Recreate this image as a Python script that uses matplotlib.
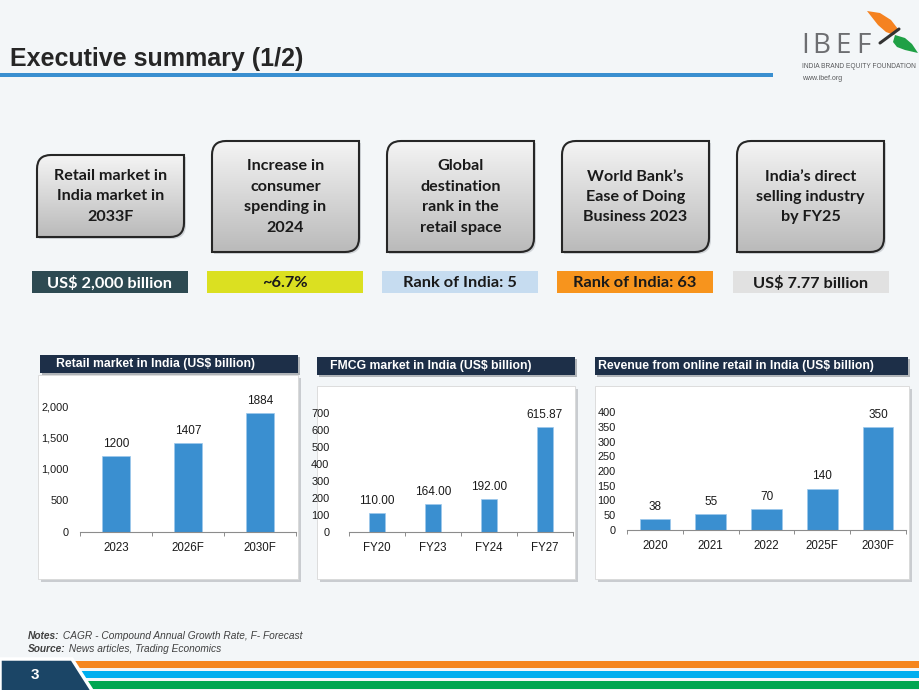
import matplotlib
matplotlib.use("Agg")
import matplotlib.pyplot as plt
import numpy as np
from matplotlib.path import Path
from matplotlib.patches import PathPatch, Rectangle, Polygon
from matplotlib.colors import LinearSegmentedColormap
from matplotlib import font_manager

# ---- data ----
box_titles = ["Retail market in\nIndia market in\n2033F",
              "Increase in\nconsumer\nspending in\n2024",
              "Global\ndestination\nrank in the\nretail space",
              "World Bank\u2019s\nEase of Doing\nBusiness 2023",
              "India\u2019s direct\nselling industry\nby FY25"]
box_values = ["US$ 2,000 billion", "~6.7%", "Rank of India: 5",
              "Rank of India: 63", "US$ 7.77 billion"]
value_colors = ["#2d4a52", "#dbe021", "#c6dcf0", "#f7941d", "#e1e1e1"]
value_text_colors = ["white", "#1a1a1a", "#1a1a1a", "#1a1a1a", "#1a1a1a"]

retail_years = ["2023", "2026F", "2030F"]
retail_vals = [1200, 1407, 1884]
fmcg_years = ["FY20", "FY23", "FY24", "FY27"]
fmcg_vals = [110.00, 164.00, 192.00, 615.87]
online_years = ["2020", "2021", "2022", "2025F", "2030F"]
online_vals = [38, 55, 70, 140, 350]

W, H = 920, 690
BG = "#f3f6f8"
BAR = "#3a8fd0"
NAVY = "#1d2f48"

installed = {f.name for f in font_manager.fontManager.ttflist}
narrow = "Liberation Sans Narrow" if "Liberation Sans Narrow" in installed else "Liberation Sans"
sans = "Liberation Sans"
boxfont = "Lato"

fig = plt.figure(figsize=(W / 100, H / 100), dpi=100, facecolor=BG)
ax = fig.add_axes([0, 0, 1, 1])
ax.set_xlim(0, W)
ax.set_ylim(H, 0)
ax.set_autoscale_on(False)
ax.axis("off")

# title + rule
ax.text(10, 66, "Executive summary (1/2)", fontsize=18, fontweight="bold",
        family=narrow, color="#262626", va="baseline", ha="left")
ax.add_patch(Rectangle((0, 73), 773, 4, color="#3a8fd0", lw=0))

# logo
for letter, lx in zip("IBEF", [801, 812, 835, 856]):
    ax.text(lx, 53, letter, fontsize=20, family="Open Sans", color="#6d6e71",
            va="baseline", ha="left")
ax.text(802, 67, "INDIA BRAND EQUITY FOUNDATION", fontsize=4.8, family=sans,
        color="#58595b", va="center", ha="left")
ax.text(802, 78, "www.ibef.org", fontsize=5, family=sans, color="#58595b",
        va="center", ha="left")
ax.add_patch(Polygon([(867, 11), (880, 13), (891, 20), (898, 29), (894, 35),
                      (886, 32), (878, 25)], closed=True, color="#f58220",
                     lw=0))
ax.add_patch(Polygon([(895, 35), (905, 38), (912, 44), (918, 53), (905, 50),
                      (897, 47), (893, 42)], closed=True, color="#1fa045",
                     lw=0))
ax.plot([880, 899], [43, 29], color="#333333", lw=2.2, solid_capstyle="round")

# summary boxes
cmap = LinearSegmentedColormap.from_list("g", ["#f4f4f4", "#bababa"])
grad = np.linspace(0, 1, 100).reshape(-1, 1)
box_x = [37, 212, 387, 562, 737]
box_w = 147
for i, (bx, title) in enumerate(zip(box_x, box_titles)):
    y0, y1 = (155, 237) if i == 0 else (141, 252)
    x0, x1 = bx, bx + box_w
    r = 14
    verts = [(x0, y1), (x0, y0 + r), (x0, y0), (x0 + r, y0), (x1, y0),
             (x1, y1 - r), (x1, y1), (x1 - r, y1), (x0, y1), (x0, y1)]
    codes = [Path.MOVETO, Path.LINETO, Path.CURVE3, Path.CURVE3, Path.LINETO,
             Path.LINETO, Path.CURVE3, Path.CURVE3, Path.LINETO, Path.CLOSEPOLY]
    shadow = PathPatch(Path([(vx + 2, vy + 2) for vx, vy in verts], codes),
                       facecolor="#d0d4d8", edgecolor="none", zorder=1)
    ax.add_patch(shadow)
    patch = PathPatch(Path(verts, codes), facecolor="none",
                      edgecolor="#262626", lw=1.5, zorder=3)
    ax.add_patch(patch)
    im = ax.imshow(grad, extent=(x0, x1, y1, y0), cmap=cmap, aspect="auto",
                   zorder=2, origin="upper")
    im.set_clip_path(patch)
    ax.text((x0 + x1) / 2, (y0 + y1) / 2 + 0.5, title, fontsize=11.6,
            fontweight="bold", family=boxfont, color="#1a1a1a",
            ha="center", va="center", linespacing=1.58, zorder=4)

# value bars
val_x = [32, 207, 382, 557, 733]
for vx, val, c, tc in zip(val_x, box_values, value_colors, value_text_colors):
    ax.add_patch(Rectangle((vx, 271), 156, 22, color=c, lw=0))
    ax.text(vx + 78, 283, val, fontsize=11.8, fontweight="bold",
            family=boxfont, color=tc, ha="center", va="center")


def chart(panel, header, title, title_x, axrect, cats, vals, ylim, yticks,
          width, fmt, ylabel_pad):
    px0, py0, px1, py1 = panel
    ax.add_patch(Rectangle((px0 + 3, py0 + 3), px1 - px0, py1 - py0,
                           color="#c9ccd0", lw=0, zorder=1))
    ax.add_patch(Rectangle((px0, py0), px1 - px0, py1 - py0,
                           facecolor="white", edgecolor="#d8d8d8", lw=0.6,
                           zorder=2))
    hx0, hy0, hx1, hy1 = header
    ax.add_patch(Rectangle((hx0 + 2, hy0 + 2), hx1 - hx0, hy1 - hy0,
                           color="#b0b4b8", lw=0, zorder=1))
    ax.add_patch(Rectangle((hx0, hy0), hx1 - hx0, hy1 - hy0,
                           color=NAVY, lw=0, zorder=2))
    ax.text(title_x, (hy0 + hy1) / 2 + 0.5, title, fontsize=8.8,
            fontweight="bold", family=sans, color="white", va="center",
            ha="left", zorder=3)

    l, t, r, b = axrect
    cax = fig.add_axes([l / W, 1 - b / H, (r - l) / W, (b - t) / H])
    cax.patch.set_alpha(0)
    x = np.arange(len(cats))
    cax.bar(x, vals, width=width, color=BAR, edgecolor="#9cc8ec", lw=0.5)
    for xi, v in zip(x, vals):
        cax.annotate(fmt.format(v), (xi, v), xytext=(0, 4.5),
                     textcoords="offset points", ha="center", va="bottom",
                     fontsize=8.5, family=sans, color="#1a1a1a")
    cax.set_xlim(-0.5, len(cats) - 0.5)
    cax.set_ylim(*ylim)
    cax.set_yticks(yticks)
    if max(yticks) >= 1000:
        cax.set_yticklabels([f"{v:,}" for v in yticks])
    cax.set_xticks(x)
    cax.set_xticklabels(cats)
    cax.set_xticks(np.arange(len(cats) + 1) - 0.5, minor=True)
    cax.tick_params(axis="x", which="major", length=0, pad=7, labelsize=8.3,
                    labelcolor="#1a1a1a")
    cax.tick_params(axis="x", which="minor", length=3, color="#8c8c8c",
                    width=0.7)
    cax.tick_params(axis="y", length=0, pad=ylabel_pad, labelsize=7.9,
                    labelcolor="#1a1a1a")
    for lab in cax.get_xticklabels() + cax.get_yticklabels():
        lab.set_family(sans)
    for s in ["top", "right", "left"]:
        cax.spines[s].set_visible(False)
    cax.spines["bottom"].set_color("#8c8c8c")
    cax.spines["bottom"].set_linewidth(0.8)


chart((38, 375, 298, 579), (40, 355, 298, 373),
      "Retail market in India (US$ billion)", 56,
      (80, 532 - 126 * 1.1, 296, 532), retail_years, retail_vals,
      (0, 2200), [0, 500, 1000, 1500, 2000], 0.4, "{:.0f}", 8)
chart((317, 386, 575, 579), (317, 357, 575, 375),
      "FMCG market in India (US$ billion)", 330,
      (349, 532 - 0.17 * 750, 573, 532), fmcg_years, fmcg_vals,
      (0, 750), list(range(0, 701, 100)), 0.3, "{:.2f}", 14)
chart((595, 386, 909, 579), (595, 357, 908, 375),
      "Revenue from online retail in India (US$ billion)", 598,
      (627, 530 - 0.295 * 430, 906, 530), online_years, online_vals,
      (0, 430), list(range(0, 401, 50)), 0.55, "{:.0f}", 8)

# notes
n1 = ax.text(28, 636, "Notes:", fontsize=7.3, fontweight="bold",
             style="italic", family=sans, color="#404040", va="center")
ax.annotate(" CAGR - Compound Annual Growth Rate, F- Forecast", xy=(1, 0.5),
            xycoords=n1, va="center", ha="left", fontsize=7.3,
            style="italic", family=sans, color="#404040")
n2 = ax.text(28, 649, "Source:", fontsize=7.3, fontweight="bold",
             style="italic", family=sans, color="#404040", va="center")
ax.annotate(" News articles, Trading Economics", xy=(1, 0.5),
            xycoords=n2, va="center", ha="left", fontsize=7.3,
            style="italic", family=sans, color="#404040")

# footer stripes
ax.add_patch(Rectangle((50, 661), W - 50, 7, color="#f5861f", lw=0))
ax.add_patch(Rectangle((50, 671), W - 50, 7, color="#00aeef", lw=0))
ax.add_patch(Rectangle((50, 681), W - 50, 8, color="#00a651", lw=0))
ax.add_patch(Polygon([(0, 659), (72, 659), (93, 692), (0, 692)], closed=True,
                     facecolor="#1b4566", edgecolor="white", lw=2.5,
                     zorder=5))
ax.text(35, 675, "3", fontsize=11, fontweight="bold", family=sans,
        color="white", ha="center", va="center", zorder=6)

fig.savefig("out.png", dpi=100, facecolor=BG)
